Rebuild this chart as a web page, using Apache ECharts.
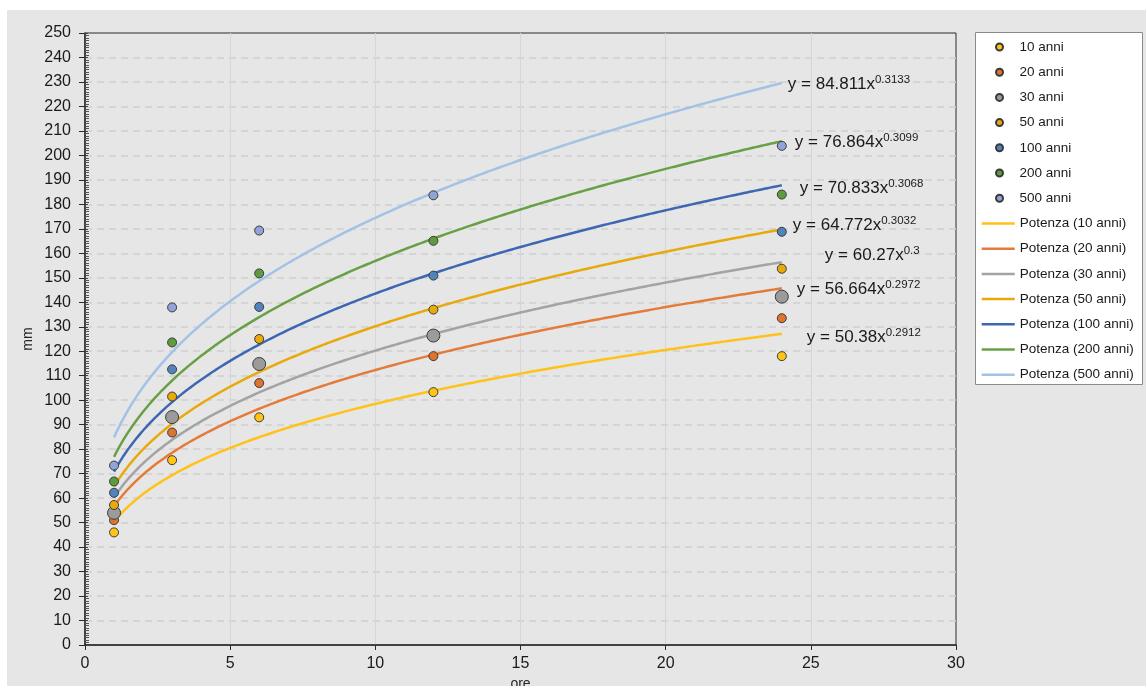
<!DOCTYPE html>
<html>
<head>
<meta charset="utf-8">
<script src="https://cdn.jsdelivr.net/npm/echarts@6/dist/echarts.min.js"></script>
<style>
  html, body { margin: 0; padding: 0; background: #ffffff; }
  #chart { position: absolute; left: 7px; top: 10px; width: 1139px; height: 676px; background: #e6e6e6; }
</style>
</head>
<body>
<div id="chart"></div>
<script>
// Durata di pioggia (ore)
const hours = [1, 3, 6, 12, 24];

// Tempo di ritorno
const periods = ['10 anni', '20 anni', '30 anni', '50 anni', '100 anni', '200 anni', '500 anni'];

// Altezze di pioggia osservate (mm) per ciascun tempo di ritorno
const h10  = [46.0, 75.5, 93.0, 103.3, 118.0];
const h20  = [51.0, 86.8, 107.0, 118.0, 133.5];
const h30  = [54.0, 93.1, 114.8, 126.4, 142.3];
const h50  = [57.2, 101.5, 125.0, 137.0, 153.7];
const h100 = [62.2, 112.6, 138.1, 150.9, 168.8];
const h200 = [66.8, 123.6, 151.8, 165.1, 184.0];
const h500 = [73.3, 137.9, 169.3, 183.7, 203.9];

// Coefficienti delle linee di tendenza potenza y = a * x^n
const fitA = [50.38, 56.664, 60.27, 64.772, 70.833, 76.864, 84.811];
const fitN = [0.2912, 0.2972, 0.3, 0.3032, 0.3068, 0.3099, 0.3133];

const xTicks = [0, 5, 10, 15, 20, 25, 30];
const yMax = 250;

const observed = [h10, h20, h30, h50, h100, h200, h500];

const pointColors = ['#FFC414', '#DD7430', '#9B9B9B', '#E9AA08', '#5284BC', '#5E9B3E', '#90A4D8'];
const lineColors  = ['#FFC21A', '#E57B3A', '#A3A3A3', '#E8A90C', '#3E67B3', '#68A145', '#A4C2E5'];
const pointSizes  = [9, 9, 13, 9, 9, 9, 9];

// posizione delle etichette delle equazioni rispetto alla fine della curva
const labelOffsets = [[17, 3], [7, 1], [35, -7], [3, -4], [10, 3], [5, 1], [-2, 1.5]];

const FONT = '"Liberation Sans", Arial, sans-serif';

function powerCurve(a, n) {
  const pts = [];
  for (let x = 1; x <= 24.0001; x += 0.1) pts.push([x, a * Math.pow(x, n)]);
  return pts;
}

const trendNames = periods.map(p => 'Potenza (' + p + ')');

const lineSeries = periods.map((p, i) => ({
  name: trendNames[i],
  type: 'line',
  data: powerCurve(fitA[i], fitN[i]),
  symbol: 'none',
  smooth: false,
  z: 2,
  lineStyle: { color: lineColors[i], width: 2.5 },
  itemStyle: { color: lineColors[i] },
  emphasis: { disabled: true },
  endLabel: {
    show: true,
    distance: 8,
    offset: labelOffsets[i],
    formatter: () => '{a|y = ' + fitA[i] + 'x}{s|' + fitN[i] + '}',
    rich: {
      a: { fontFamily: FONT, fontSize: 17, color: '#1a1a1a' },
      s: { fontFamily: FONT, fontSize: 11.5, color: '#1a1a1a', padding: [0, 0, 9, 0] }
    }
  }
}));

const scatterSeries = periods.map((p, i) => ({
  name: p,
  type: 'scatter',
  data: hours.map((h, k) => [h, observed[i][k]]),
  symbol: 'circle',
  symbolSize: pointSizes[i],
  z: 3,
  itemStyle: { color: pointColors[i], borderColor: '#3a3a3a', borderWidth: 1, opacity: 1 },
  emphasis: { disabled: true }
}));

const chart = echarts.init(document.getElementById('chart'), null, { renderer: 'canvas' });

chart.setOption({
  animation: false,
  textStyle: { fontFamily: FONT },
  grid: {
    left: 78, top: 23, right: 190, bottom: 41,
    outerBoundsMode: 'none',
    containLabel: false,
    show: true, borderColor: '#2b2b2b', borderWidth: 1, backgroundColor: 'transparent'
  },
  graphic: [{
    type: 'rect',
    left: 968, top: 22,
    shape: { width: 167, height: 352 },
    style: { fill: '#ffffff', stroke: '#8a8a8a', lineWidth: 1 },
    z: -1
  }],
  legend: [{
    data: periods,
    orient: 'vertical',
    left: 983, top: 25,
    itemWidth: 30, itemHeight: 7,
    itemGap: 11.2,
    icon: 'circle',
    selectedMode: false,
    textStyle: { fontFamily: FONT, fontSize: 13.5, color: '#1a1a1a', lineHeight: 14 }
  }, {
    data: trendNames,
    orient: 'vertical',
    left: 969.7, top: 201.5,
    itemWidth: 33, itemHeight: 2.5,
    itemGap: 11.2,
    icon: 'rect',
    selectedMode: false,
    textStyle: { fontFamily: FONT, fontSize: 13.5, color: '#1a1a1a', lineHeight: 14 }
  }],
  xAxis: {
    type: 'value',
    min: xTicks[0], max: xTicks[xTicks.length - 1], interval: 5,
    name: 'ore', nameLocation: 'middle', nameGap: 28,
    nameTextStyle: { fontFamily: FONT, fontSize: 14, color: '#262626' },
    axisLine: { show: true, lineStyle: { color: '#2b2b2b', width: 1.5 } },
    axisTick: { show: true, length: 5, lineStyle: { color: '#2b2b2b' } },
    axisLabel: { fontFamily: FONT, fontSize: 16, color: '#1a1a1a', margin: 11 },
    splitLine: { show: true, showMinLine: false, showMaxLine: false, lineStyle: { color: '#d6d6d6', width: 1 } }
  },
  yAxis: [{
    type: 'value',
    min: 0, max: yMax, interval: 10,
    name: 'mm', nameLocation: 'middle', nameGap: 50,
    nameMoveOverlap: false,
    nameTextStyle: { fontFamily: FONT, fontSize: 14, color: '#262626' },
    axisLine: { show: true, lineStyle: { color: '#2b2b2b', width: 1.5 } },
    axisTick: { show: true, length: 6, lineStyle: { color: '#2b2b2b' } },
    axisLabel: { fontFamily: FONT, fontSize: 16, color: '#1a1a1a', margin: 14 },
    splitLine: { show: true, showMinLine: false, showMaxLine: false, lineStyle: { color: '#d0d0d0', width: 1.5, type: [7, 5] } }
  }, {
    type: 'value',
    min: 0, max: yMax, interval: 10,
    position: 'left',
    axisLine: { show: false },
    axisLabel: { show: false },
    axisTick: { show: true, inside: true, length: 3, lineStyle: { color: '#444444' } },
    minorTick: { show: true, splitNumber: 10, length: 4, lineStyle: { color: '#555555' } },
    splitLine: { show: false }
  }],
  series: [...lineSeries, ...scatterSeries]
});
</script>
</body>
</html>
